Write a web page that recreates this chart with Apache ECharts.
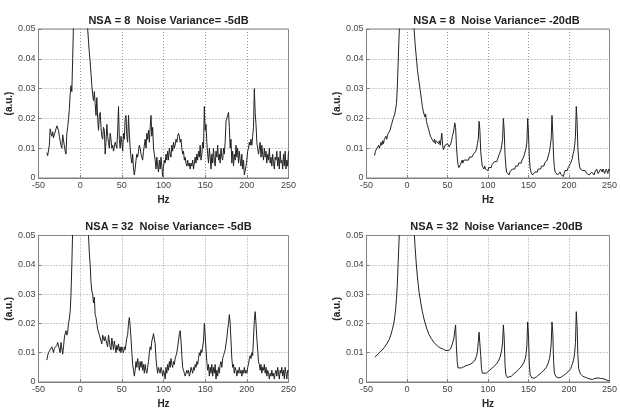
<!DOCTYPE html>
<html>
<head>
<meta charset="utf-8">
<script src="https://cdn.jsdelivr.net/npm/echarts@6/dist/echarts.min.js"></script>
<style>
html,body{margin:0;padding:0;background:#fff;}
#chart{width:620px;height:410px;}
</style>
</head>
<body>
<div id="chart"></div>
<script>
// ---- data (Hz, a.u.) ----
const panelTitles = [
  'NSA = 8  Noise Variance= -5dB',
  'NSA = 8  Noise Variance= -20dB',
  'NSA = 32  Noise Variance= -5dB',
  'NSA = 32  Noise Variance= -20dB'
];
const xTicks = [-50, 0, 50, 100, 150, 200, 250];
const yTickLabels = ['0', '0.01', '0.02', '0.03', '0.04', '0.05'];

const nsa8_m5 = [
[-40,0.0085],[-39,0.0075],[-38,0.0070],[-37,0.0110],[-36,0.0165],[-35,0.0150],[-34,0.0140],[-33,0.0155],[-32,0.0135],[-31,0.0130],
[-29,0.0165],[-28,0.0175],[-27,0.0170],[-26,0.0160],[-25,0.0140],[-24,0.0125],[-23,0.0110],[-22,0.0100],[-21,0.0145],[-20,0.0150],
[-19,0.0140],[-18,0.0090],[-17,0.0080],[-16,0.0150],[-15,0.0170],[-14,0.0200],[-13,0.0230],[-12,0.0280],[-11,0.0310],[-10,0.0290],
[-9,0.0400],[-8,0.0520],[-6,0.0700],[-3,0.1000],[0,0.1500],[3,0.1100],[6,0.0750],[8,0.0560],[9,0.0500],[10,0.0460],
[11,0.0420],[12,0.0390],[13,0.0350],[14,0.0310],[15,0.0280],[16,0.0260],[17,0.0290],[18,0.0250],[19,0.0210],[20,0.0270],
[21,0.0200],[22,0.0160],[23,0.0210],[24,0.0220],[25,0.0170],[26,0.0140],[27,0.0130],[28,0.0170],[29,0.0160],[30,0.0080],
[31,0.0120],[32,0.0180],[33,0.0140],[34,0.0120],[35,0.0100],[36,0.0150],[37,0.0130],[38,0.0100],[39,0.0110],[40,0.0090],
[41,0.0085],[42,0.0120],[43,0.0110],[44,0.0100],[45,0.0160],[46,0.0240],[47,0.0130],[48,0.0100],[49,0.0140],[50,0.0120],
[51,0.0090],[52,0.0150],[53,0.0130],[54,0.0200],[55,0.0210],[56,0.0140],[57,0.0120],[58,0.0210],[59,0.0150],[60,0.0100],
[61,0.0070],[62,0.0050],[63,0.0080],[64,0.0030],[65,0.0010],[66,0.0030],[67,0.0060],[68,0.0080],[69,0.0070],[70,0.0090],
[71,0.0110],[72,0.0100],[73,0.0080],[74,0.0070],[75,0.0060],[76,0.0090],[77,0.0110],[78,0.0130],[79,0.0100],[80,0.0150],
[81,0.0130],[82,0.0160],[83,0.0120],[84,0.0170],[85,0.0210],[86,0.0140],[87,0.0170],[88,0.0100],[89,0.0080],[90,0.0060],
[91,0.0030],[92,0.0070],[93,0.0040],[94,0.0020],[95,0.0060],[96,0.0030],[97,0.0070],[98,0.0040],[99,0.0005],[100,0.0040],
[101,0.0060],[102,0.0050],[103,0.0080],[104,0.0060],[105,0.0090],[106,0.0060],[107,0.0100],[108,0.0080],[109,0.0070],[110,0.0110],
[111,0.0090],[112,0.0120],[113,0.0100],[114,0.0110],[115,0.0130],[116,0.0120],[117,0.0140],[118,0.0150],[119,0.0140],[120,0.0120],
[121,0.0130],[122,0.0100],[123,0.0080],[124,0.0090],[125,0.0060],[126,0.0070],[127,0.0050],[128,0.0040],[129,0.0060],[130,0.0040],
[131,0.0050],[132,0.0030],[133,0.0050],[134,0.0040],[135,0.0060],[136,0.0030],[137,0.0050],[138,0.0070],[139,0.0050],[140,0.0080],
[141,0.0060],[142,0.0090],[143,0.0070],[144,0.0110],[145,0.0060],[146,0.0080],[147,0.0120],[148,0.0100],[149,0.0240],[150,0.0160],
[151,0.0180],[152,0.0120],[153,0.0080],[154,0.0050],[155,0.0100],[156,0.0070],[157,0.0030],[158,0.0080],[159,0.0050],[160,0.0100],
[161,0.0060],[162,0.0040],[163,0.0090],[164,0.0070],[165,0.0110],[166,0.0060],[167,0.0080],[168,0.0050],[169,0.0100],[170,0.0070],
[171,0.0060],[172,0.0100],[173,0.0080],[174,0.0120],[175,0.0190],[176,0.0200],[177,0.0210],[178,0.0220],[179,0.0170],[180,0.0100],
[181,0.0130],[182,0.0050],[183,0.0090],[184,0.0040],[185,0.0080],[186,0.0060],[187,0.0110],[188,0.0070],[189,0.0100],[190,0.0050],
[191,0.0090],[192,0.0060],[193,0.0040],[194,0.0080],[195,0.0030],[196,0.0060],[197,0.0010],[198,0.0005],[199,0.0040],[200,0.0060],
[201,0.0090],[202,0.0100],[203,0.0120],[204,0.0110],[205,0.0130],[206,0.0110],[207,0.0140],[208,0.0170],[209,0.0300],[210,0.0220],
[211,0.0180],[212,0.0120],[213,0.0100],[214,0.0080],[215,0.0100],[216,0.0120],[217,0.0070],[218,0.0110],[219,0.0080],[220,0.0060],
[221,0.0100],[222,0.0070],[223,0.0090],[224,0.0050],[225,0.0080],[226,0.0060],[227,0.0100],[228,0.0050],[229,0.0070],[230,0.0040],
[231,0.0080],[232,0.0050],[233,0.0030],[234,0.0070],[235,0.0060],[236,0.0090],[237,0.0040],[238,0.0070],[239,0.0030],[240,0.0090],
[241,0.0050],[242,0.0060],[243,0.0030],[244,0.0080],[245,0.0040],[246,0.0090],[247,0.0030],[248,0.0060],[249,0.0040],[250,0.0090]
];

const nsa8_m20 = [
[-40,0.0075],[-39,0.0090],[-38,0.0085],[-37,0.0100],[-36,0.0095],[-35,0.0110],[-34,0.0100],[-33,0.0105],[-32,0.0120],[-31,0.0110],
[-30,0.0125],[-29,0.0115],[-28,0.0130],[-27,0.0125],[-26,0.0140],[-25,0.0130],[-24,0.0145],[-23,0.0150],[-22,0.0140],[-21,0.0160],
[-20,0.0165],[-19,0.0180],[-18,0.0185],[-17,0.0200],[-16,0.0205],[-15,0.0215],[-14,0.0220],[-13,0.0250],[-12,0.0300],[-11,0.0380],
[-10,0.0460],[-9,0.0530],[-6,0.0750],[-3,0.1100],[0,0.1600],[3,0.1100],[6,0.0750],[8,0.0530],[9,0.0490],[10,0.0450],
[11,0.0420],[12,0.0390],[13,0.0360],[14,0.0340],[15,0.0320],[16,0.0300],[17,0.0280],[18,0.0260],[19,0.0240],[20,0.0225],
[21,0.0220],[22,0.0205],[23,0.0215],[24,0.0190],[25,0.0180],[26,0.0175],[27,0.0160],[28,0.0150],[29,0.0140],[30,0.0135],
[31,0.0130],[32,0.0125],[33,0.0120],[34,0.0130],[35,0.0115],[36,0.0125],[37,0.0120],[38,0.0130],[39,0.0115],[40,0.0125],
[41,0.0110],[42,0.0130],[43,0.0150],[44,0.0110],[45,0.0095],[46,0.0100],[47,0.0110],[48,0.0105],[49,0.0110],[50,0.0115],
[51,0.0110],[52,0.0105],[53,0.0110],[54,0.0115],[55,0.0125],[56,0.0140],[57,0.0150],[58,0.0165],[59,0.0185],[60,0.0170],
[61,0.0110],[62,0.0070],[63,0.0045],[64,0.0035],[65,0.0030],[66,0.0045],[67,0.0050],[68,0.0060],[69,0.0050],[70,0.0060],
[71,0.0055],[72,0.0065],[73,0.0060],[74,0.0055],[75,0.0065],[76,0.0060],[77,0.0070],[78,0.0065],[79,0.0075],[80,0.0070],
[81,0.0075],[82,0.0080],[83,0.0075],[84,0.0085],[85,0.0090],[86,0.0100],[87,0.0115],[88,0.0130],[89,0.0190],[90,0.0160],
[91,0.0090],[92,0.0060],[93,0.0040],[94,0.0035],[95,0.0030],[96,0.0040],[97,0.0030],[98,0.0035],[99,0.0030],[100,0.0025],
[101,0.0035],[102,0.0030],[103,0.0040],[104,0.0035],[105,0.0045],[106,0.0040],[107,0.0050],[108,0.0055],[109,0.0050],[110,0.0060],
[111,0.0055],[112,0.0065],[113,0.0070],[114,0.0080],[115,0.0085],[116,0.0095],[117,0.0110],[118,0.0130],[119,0.0200],[120,0.0160],
[121,0.0080],[122,0.0040],[123,0.0020],[124,0.0015],[125,0.0020],[126,0.0010],[127,0.0020],[128,0.0025],[129,0.0020],[130,0.0030],
[131,0.0025],[132,0.0035],[133,0.0030],[134,0.0040],[135,0.0035],[136,0.0045],[137,0.0040],[138,0.0050],[139,0.0045],[140,0.0055],
[141,0.0050],[142,0.0060],[143,0.0065],[144,0.0070],[145,0.0080],[146,0.0090],[147,0.0100],[148,0.0120],[149,0.0200],[150,0.0150],
[151,0.0070],[152,0.0035],[153,0.0020],[154,0.0015],[155,0.0010],[156,0.0015],[157,0.0010],[158,0.0020],[159,0.0015],[160,0.0025],
[161,0.0020],[162,0.0030],[163,0.0025],[164,0.0035],[165,0.0030],[166,0.0040],[167,0.0035],[168,0.0045],[169,0.0040],[170,0.0050],
[171,0.0045],[172,0.0055],[173,0.0060],[174,0.0070],[175,0.0080],[176,0.0090],[177,0.0110],[178,0.0130],[179,0.0210],[180,0.0150],
[181,0.0070],[182,0.0035],[183,0.0020],[184,0.0015],[185,0.0020],[186,0.0010],[187,0.0015],[188,0.0010],[189,0.0020],[190,0.0012],
[191,0.0018],[192,0.0010],[193,0.0005],[194,0.0015],[195,0.0025],[196,0.0020],[197,0.0030],[198,0.0025],[199,0.0035],[200,0.0030],
[201,0.0040],[202,0.0050],[203,0.0055],[204,0.0065],[205,0.0080],[206,0.0090],[207,0.0110],[208,0.0140],[209,0.0240],[210,0.0190],
[211,0.0100],[212,0.0060],[213,0.0040],[214,0.0030],[215,0.0035],[216,0.0030],[217,0.0025],[218,0.0030],[219,0.0020],[220,0.0025],
[221,0.0020],[222,0.0015],[223,0.0020],[224,0.0015],[225,0.0010],[226,0.0015],[227,0.0010],[228,0.0020],[229,0.0015],[230,0.0025],
[231,0.0010],[232,0.0020],[233,0.0025],[234,0.0030],[235,0.0025],[236,0.0015],[237,0.0010],[238,0.0020],[239,0.0030],[240,0.0025],
[241,0.0020],[242,0.0030],[243,0.0025],[244,0.0015],[245,0.0020],[246,0.0030],[247,0.0025],[248,0.0015],[249,0.0030],[250,0.0025]
];

const nsa32_m5 = [
[-40,0.0075],[-39,0.0090],[-38,0.0100],[-37,0.0105],[-36,0.0110],[-35,0.0115],[-34,0.0120],[-33,0.0110],[-32,0.0100],[-31,0.0115],
[-30,0.0120],[-29,0.0110],[-28,0.0125],[-27,0.0135],[-26,0.0140],[-25,0.0130],[-24,0.0100],[-23,0.0135],[-22,0.0140],[-21,0.0095],
[-20,0.0120],[-19,0.0150],[-18,0.0165],[-17,0.0175],[-16,0.0160],[-15,0.0170],[-14,0.0200],[-13,0.0215],[-12,0.0240],[-11,0.0300],
[-10,0.0400],[-9,0.0520],[-6,0.0750],[-3,0.1100],[0,0.1600],[3,0.1100],[6,0.0750],[9,0.0540],[10,0.0500],[11,0.0440],
[12,0.0400],[13,0.0340],[14,0.0310],[15,0.0300],[16,0.0270],[17,0.0290],[18,0.0230],[19,0.0220],[20,0.0200],[21,0.0180],
[22,0.0170],[23,0.0160],[24,0.0165],[25,0.0140],[26,0.0130],[27,0.0160],[28,0.0150],[29,0.0140],[30,0.0155],[31,0.0150],
[32,0.0130],[33,0.0120],[34,0.0160],[35,0.0140],[36,0.0120],[37,0.0110],[38,0.0150],[39,0.0130],[40,0.0110],[41,0.0140],
[42,0.0120],[43,0.0100],[44,0.0125],[45,0.0110],[46,0.0130],[47,0.0105],[48,0.0120],[49,0.0100],[50,0.0120],[51,0.0110],
[52,0.0100],[53,0.0120],[54,0.0110],[55,0.0130],[56,0.0150],[57,0.0160],[58,0.0200],[59,0.0220],[60,0.0190],[61,0.0150],
[62,0.0100],[63,0.0060],[64,0.0040],[65,0.0020],[66,0.0040],[67,0.0070],[68,0.0050],[69,0.0080],[70,0.0060],[71,0.0040],
[72,0.0070],[73,0.0050],[74,0.0070],[75,0.0040],[76,0.0060],[77,0.0030],[78,0.0060],[79,0.0040],[80,0.0030],[81,0.0050],
[82,0.0070],[83,0.0100],[84,0.0120],[85,0.0110],[86,0.0140],[87,0.0150],[88,0.0165],[89,0.0170],[90,0.0130],[91,0.0080],
[92,0.0050],[93,0.0030],[94,0.0050],[95,0.0040],[96,0.0030],[97,0.0050],[98,0.0040],[99,0.0020],[100,0.0040],[101,0.0030],
[102,0.0010],[103,0.0050],[104,0.0030],[105,0.0060],[106,0.0040],[107,0.0070],[108,0.0050],[109,0.0080],[110,0.0060],[111,0.0050],
[112,0.0070],[113,0.0060],[114,0.0080],[115,0.0090],[116,0.0100],[117,0.0120],[118,0.0140],[119,0.0165],[120,0.0175],[121,0.0140],
[122,0.0090],[123,0.0050],[124,0.0040],[125,0.0030],[126,0.0020],[127,0.0030],[128,0.0040],[129,0.0030],[130,0.0040],[131,0.0020],
[132,0.0030],[133,0.0050],[134,0.0040],[135,0.0030],[136,0.0050],[137,0.0040],[138,0.0060],[139,0.0050],[140,0.0070],[141,0.0060],
[142,0.0080],[143,0.0100],[144,0.0090],[145,0.0110],[146,0.0100],[147,0.0120],[148,0.0140],[149,0.0200],[150,0.0160],[151,0.0110],
[152,0.0070],[153,0.0040],[154,0.0060],[155,0.0020],[156,0.0050],[157,0.0030],[158,0.0060],[159,0.0020],[160,0.0050],[161,0.0030],
[162,0.0060],[163,0.0010],[164,0.0040],[165,0.0020],[166,0.0050],[167,0.0030],[168,0.0060],[169,0.0070],[170,0.0050],[171,0.0080],
[172,0.0090],[173,0.0100],[174,0.0110],[175,0.0130],[176,0.0150],[177,0.0180],[178,0.0200],[179,0.0230],[180,0.0200],[181,0.0140],
[182,0.0080],[183,0.0050],[184,0.0060],[185,0.0030],[186,0.0050],[187,0.0040],[188,0.0020],[189,0.0040],[190,0.0030],[191,0.0050],
[192,0.0030],[193,0.0040],[194,0.0020],[195,0.0040],[196,0.0030],[197,0.0050],[198,0.0030],[199,0.0040],[200,0.0030],[201,0.0050],
[202,0.0060],[203,0.0080],[204,0.0090],[205,0.0080],[206,0.0100],[207,0.0090],[208,0.0150],[209,0.0210],[210,0.0240],[211,0.0200],
[212,0.0150],[213,0.0110],[214,0.0070],[215,0.0060],[216,0.0040],[217,0.0060],[218,0.0030],[219,0.0050],[220,0.0040],[221,0.0060],
[222,0.0030],[223,0.0050],[224,0.0020],[225,0.0040],[226,0.0030],[227,0.0010],[228,0.0030],[229,0.0020],[230,0.0040],[231,0.0020],
[232,0.0030],[233,0.0010],[234,0.0030],[235,0.0040],[236,0.0020],[237,0.0050],[238,0.0030],[239,0.0010],[240,0.0040],[241,0.0030],
[242,0.0050],[243,0.0020],[244,0.0040],[245,0.0010],[246,0.0050],[247,0.0030],[248,0.0010],[249,0.0040],[250,0.0035]
];

const nsa32_m20 = [
[-40,0.0085],[-37,0.0092],[-34,0.0100],[-31,0.0108],[-28,0.0118],[-25,0.0130],[-22,0.0145],[-20,0.0160],[-18,0.0180],[-16,0.0205],
[-15,0.0225],[-14,0.0250],[-13,0.0285],[-12,0.0330],[-11,0.0400],[-10,0.0470],[-9,0.0550],[-6,0.0800],[-3,0.1200],[0,0.1700],
[3,0.1200],[6,0.0800],[8,0.0570],[9,0.0510],[10,0.0460],[11,0.0420],[12,0.0385],[13,0.0355],[14,0.0330],[15,0.0305],
[17,0.0270],[19,0.0240],[21,0.0215],[23,0.0195],[25,0.0178],[27,0.0163],[30,0.0148],[33,0.0136],[36,0.0127],[39,0.0120],
[42,0.0115],[45,0.0112],[48,0.0107],[50,0.0105],[52,0.0108],[54,0.0115],[56,0.0130],[58,0.0150],[59,0.0175],[60,0.0195],
[61,0.0120],[62,0.0070],[63,0.0048],[65,0.0042],[67,0.0048],[70,0.0052],[73,0.0056],[76,0.0058],[79,0.0062],[82,0.0068],
[84,0.0075],[86,0.0090],[87,0.0105],[88,0.0135],[89,0.0170],[90,0.0165],[91,0.0090],[92,0.0045],[93,0.0030],[95,0.0025],
[98,0.0030],[101,0.0038],[104,0.0045],[107,0.0052],[110,0.0060],[113,0.0072],[115,0.0085],[117,0.0110],[118,0.0135],[119,0.0195],
[120,0.0150],[121,0.0060],[122,0.0025],[124,0.0015],[126,0.0015],[129,0.0020],[132,0.0028],[135,0.0035],[138,0.0043],[141,0.0052],
[144,0.0065],[146,0.0080],[147,0.0095],[148,0.0125],[149,0.0205],[150,0.0160],[151,0.0060],[152,0.0025],[154,0.0014],[157,0.0013],
[160,0.0018],[163,0.0025],[166,0.0032],[169,0.0040],[172,0.0050],[174,0.0062],[176,0.0080],[177,0.0100],[178,0.0130],[179,0.0205],
[180,0.0170],[181,0.0070],[182,0.0030],[184,0.0018],[187,0.0014],[190,0.0016],[193,0.0022],[196,0.0028],[199,0.0035],[202,0.0045],
[204,0.0060],[206,0.0080],[207,0.0100],[208,0.0135],[209,0.0240],[210,0.0190],[211,0.0090],[212,0.0045],[214,0.0028],[217,0.0020],
[220,0.0016],[223,0.0013],[226,0.0010],[229,0.0009],[232,0.0012],[233,0.0015],[234,0.0010],[236,0.0014],[237,0.0009],[239,0.0012],
[241,0.0008],[243,0.0011],[245,0.0007],[247,0.0006],[249,0.0004],[250,0.0004]
];

const panelData = [nsa8_m5, nsa8_m20, nsa32_m5, nsa32_m20];

// ---- layout ----
const FONT = 'Liberation Sans, Arial, sans-serif';
const boxes = [
  {left: 38.5, top: 29},
  {left: 366.5, top: 29},
  {left: 38.5, top: 235.5},
  {left: 366.5, top: 235.5}
];
const W = 250, H = 149;

const chart = echarts.init(document.getElementById('chart'), null, {renderer: 'canvas'});

const option = {
  backgroundColor: '#fff',
  animation: false,
  title: boxes.map((b, i) => ({
    text: panelTitles[i],
    left: b.left + W / 2,
    top: b.top - 19,
    textAlign: 'center',
    textStyle: {fontFamily: FONT, fontSize: 11, fontWeight: 'bold', color: '#222'}
  })),
  grid: boxes.map(b => ({
    left: b.left, top: b.top, width: W, height: H,
    show: true, borderColor: '#808080', borderWidth: 1, backgroundColor: '#fff'
  })),
  xAxis: boxes.map((b, i) => ({
    type: 'value', gridIndex: i,
    min: xTicks[0], max: xTicks[xTicks.length - 1], interval: 50,
    name: 'Hz', nameLocation: 'middle', nameGap: 17,
    nameTextStyle: {fontFamily: FONT, fontSize: 10, fontWeight: 'bold', color: '#222'},
    axisLine: {show: true, onZero: false, lineStyle: {color: '#808080', width: 1}},
    axisTick: {show: true, inside: true, length: 3, lineStyle: {color: '#808080'}},
    axisLabel: {fontFamily: FONT, fontSize: 9, color: '#444', margin: 3},
    splitLine: {show: true, lineStyle: {type: [1, 2], color: '#9a9a9a', width: 1}}
  })),
  yAxis: boxes.map((b, i) => ({
    type: 'value', gridIndex: i,
    min: 0, max: 0.05, interval: 0.01,
    name: '(a.u.)', nameLocation: 'middle', nameGap: 20, nameRotate: 90,
    nameTextStyle: {fontFamily: FONT, fontSize: 10, fontWeight: 'bold', color: '#222'},
    axisLine: {show: true, onZero: false, lineStyle: {color: '#808080', width: 1}},
    axisTick: {show: true, inside: true, length: 3, lineStyle: {color: '#808080'}},
    axisLabel: {fontFamily: FONT, fontSize: 9, color: '#444', margin: 3,
      formatter: (v, idx) => yTickLabels[idx]},
    splitLine: {show: true, lineStyle: {type: [1, 2], color: '#9a9a9a', width: 1}}
  })),
  series: panelData.map((d, i) => ({
    type: 'line', xAxisIndex: i, yAxisIndex: i,
    data: d, showSymbol: false, symbol: 'none', clip: true,
    lineStyle: {color: '#222', width: 1}
  }))
};
chart.setOption(option);
</script>
</body>
</html>
